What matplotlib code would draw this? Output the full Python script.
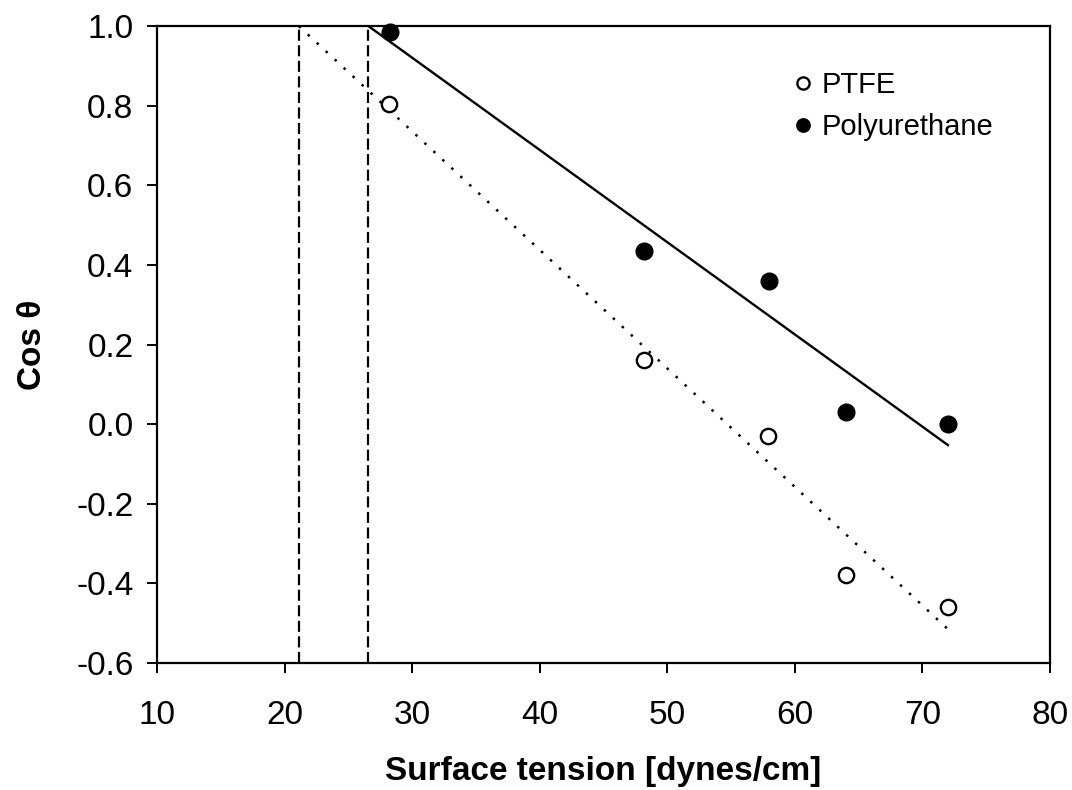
import numpy as np
import matplotlib.pyplot as plt

plt.rcParams['font.family'] = ['Liberation Sans', 'DejaVu Sans']

# contact angle data for the two surfaces
tension_ptfe = [28.2, 48.2, 57.9, 64.0, 72.0]
cos_ptfe = [0.805, 0.16, -0.03, -0.38, -0.46]

tension_pu = [28.3, 48.2, 58.0, 64.0, 72.0]
cos_pu = [0.985, 0.435, 0.36, 0.03, 0.0]

xticks = [10, 20, 30, 40, 50, 60, 70, 80]
yticks = [-0.6, -0.4, -0.2, 0.0, 0.2, 0.4, 0.6, 0.8, 1.0]

fig = plt.figure(figsize=(10.72, 7.9), dpi=100)
ax = fig.add_axes([0.1465, 0.1608, 0.833, 0.8062])

# linear fits, drawn from cos = 1 (critical tension) to the last point
m1, b1 = np.polyfit(tension_ptfe, cos_ptfe, 1)
m2, b2 = np.polyfit(tension_pu, cos_pu, 1)
xc1 = (1 - b1) / m1
xc2 = (1 - b2) / m2

xx1 = np.array([xc1, max(tension_ptfe)])
xx2 = np.array([xc2, max(tension_pu)])
ax.plot(xx1, m1 * xx1 + b1, color='black', lw=1.8, ls=(0, (1.0, 3.9)))
ax.plot(xx2, m2 * xx2 + b2, color='black', lw=1.7)

ax.plot([xc1, xc1], [-0.6, 1.0], color='black', lw=1.6, ls=(0, (5, 2)))
ax.plot([xc2, xc2], [-0.6, 1.0], color='black', lw=1.6, ls=(0, (5, 2)))

ax.plot(tension_ptfe, cos_ptfe, 'o', ms=11, mfc='white', mec='black', mew=1.7,
        label='PTFE', clip_on=False, zorder=5)
ax.plot(tension_pu, cos_pu, 'o', ms=12, mfc='black', mec='black',
        label='Polyurethane', clip_on=False, zorder=5)

ax.set_xlim(10, 80)
ax.set_ylim(-0.6, 1.0)
ax.set_xticks(xticks)
ax.set_yticks(yticks)
ax.set_yticklabels(['%.1f' % v for v in yticks])
ax.tick_params(direction='out', length=7, width=1.4, labelsize=24)
ax.tick_params(axis='x', pad=20)
ax.tick_params(axis='y', pad=10)
for s in ax.spines.values():
    s.set_linewidth(1.6)

ax.set_xlabel('Surface tension [dynes/cm]', fontsize=24, fontweight='bold', labelpad=18)
ax.set_ylabel('Cos θ', fontsize=24, fontweight='bold', labelpad=20)

leg = ax.legend(loc='upper left', bbox_to_anchor=(0.70, 0.948), frameon=False,
                fontsize=21, handlelength=0.6, handletextpad=0.35,
                labelspacing=0.5, markerscale=0.8, borderaxespad=0)

fig.savefig('out.png', dpi=100)
